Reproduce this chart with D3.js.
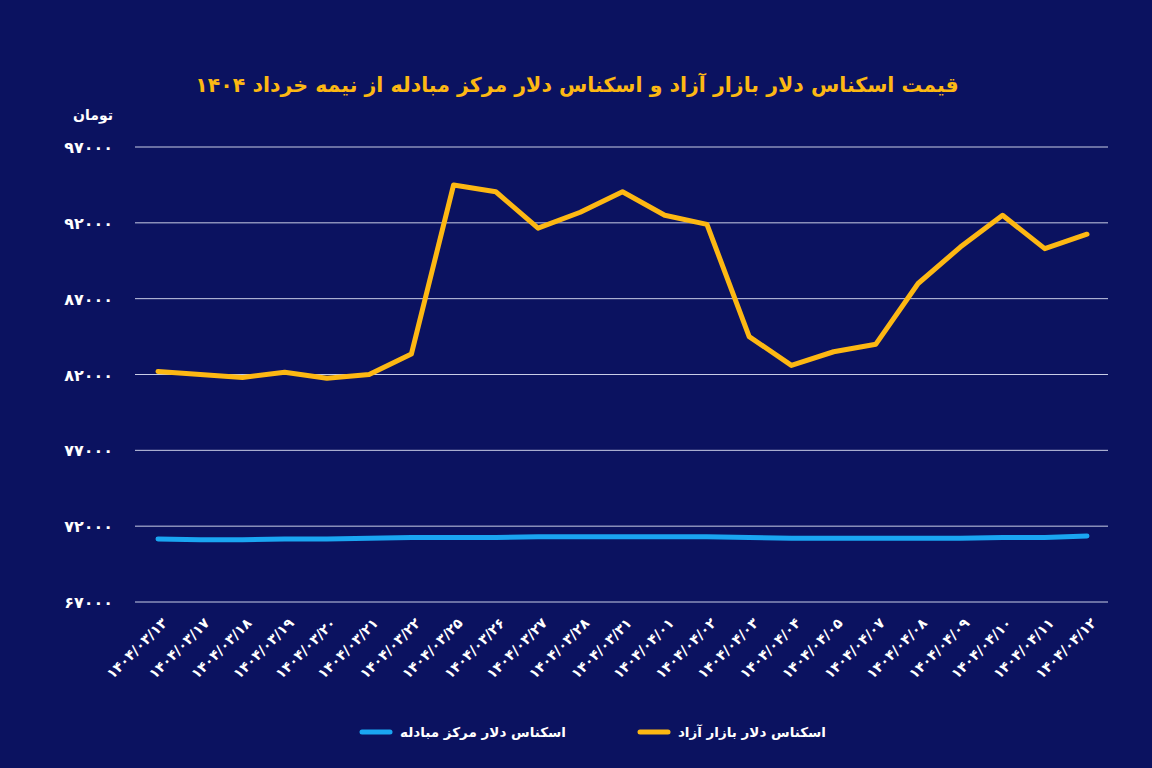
<!DOCTYPE html>
<html><head><meta charset="utf-8">
<script src="https://cdn.jsdelivr.net/npm/d3@7"></script>
<style>body{margin:0;background:#0b1260;}</style>
</head><body>
<svg id="c" width="1152" height="768"></svg>
<script>
const dates = ["1404/03/13","1404/03/17","1404/03/18","1404/03/19","1404/03/20","1404/03/21","1404/03/22","1404/03/25","1404/03/26","1404/03/27","1404/03/28","1404/03/31","1404/04/01","1404/04/02","1404/04/03","1404/04/04","1404/04/05","1404/04/07","1404/04/08","1404/04/09","1404/04/10","1404/04/11","1404/04/12"];
const freeMarket = [82200,82000,81800,82150,81750,82000,83350,94500,94050,91650,92700,94050,92500,91900,84500,82600,83500,84000,88000,90400,92500,90300,91250];
const exchangeCenter = [71150,71100,71100,71150,71150,71200,71250,71250,71250,71300,71300,71300,71300,71300,71250,71200,71200,71200,71200,71200,71250,71250,71350];
const yTicks = [67000,72000,77000,82000,87000,92000,97000];
const seriesNames = ["اسکناس دلار مرکز مبادله","اسکناس دلار بازار آزاد"];
const title = "قیمت اسکناس دلار بازار آزاد و اسکناس دلار مرکز مبادله از نیمه خرداد ۱۴۰۴";

const fa = s => String(s).replace(/\d/g, d => "۰۱۲۳۴۵۶۷۸۹"[d]);
const svg = d3.select("#c");
const font = "'DejaVu Sans', sans-serif";
const x = d3.scalePoint().domain(dates).range([158,1087]);
const y = d3.scaleLinear().domain([67000,97000]).range([602,147]);

svg.append("text").attr("x",577).attr("y",92).attr("text-anchor","middle")
  .attr("fill","#fdb813").attr("font-family",font).attr("font-weight","bold").attr("font-size",20.5)
  .text(title);
svg.append("text").attr("x",113).attr("y",120).attr("text-anchor","end")
  .attr("fill","#fff").attr("font-family",font).attr("font-weight","bold").attr("font-size",14).text("تومان");

const ya = svg.append("g");
yTicks.forEach(t=>{
  ya.append("line").attr("x1",135).attr("x2",1108).attr("y1",y(t)).attr("y2",y(t)).attr("stroke","#c9cde6").attr("stroke-width",1);
  ya.append("text").attr("x",113).attr("y",y(t)+6).attr("text-anchor","end").attr("fill","#fff")
    .attr("font-family",font).attr("font-weight","bold").attr("font-size",16).text(fa(t));
});
dates.forEach(d=>{
  svg.append("text").attr("transform",`translate(${x(d)+10},${624}) rotate(-45)`).attr("text-anchor","end")
    .attr("fill","#fff").attr("font-family",font).attr("font-weight","bold").attr("font-size",14).text(fa(d));
});
const line = d3.line().x((v,i)=>x(dates[i])).y(v=>y(v)).curve(d3.curveLinear);
svg.append("path").attr("d",line(exchangeCenter)).attr("fill","none").attr("stroke","#1aa6f2").attr("stroke-width",5).attr("stroke-linecap","round");
svg.append("path").attr("d",line(freeMarket)).attr("fill","none").attr("stroke","#fdb813").attr("stroke-width",5).attr("stroke-linecap","round").attr("stroke-linejoin","round");

const leg = [{n:seriesNames[0],c:"#1aa6f2",lx:362,tx:566},{n:seriesNames[1],c:"#fdb813",lx:640,tx:826}];
leg.forEach(l=>{
  svg.append("line").attr("x1",l.lx).attr("x2",l.lx+28).attr("y1",732).attr("y2",732).attr("stroke",l.c).attr("stroke-width",5).attr("stroke-linecap","round");
  svg.append("text").attr("x",l.tx).attr("y",737).attr("text-anchor","end").attr("fill","#fff")
    .attr("font-family",font).attr("font-weight","bold").attr("font-size",13.5).text(l.n);
});
</script>
</body></html>
